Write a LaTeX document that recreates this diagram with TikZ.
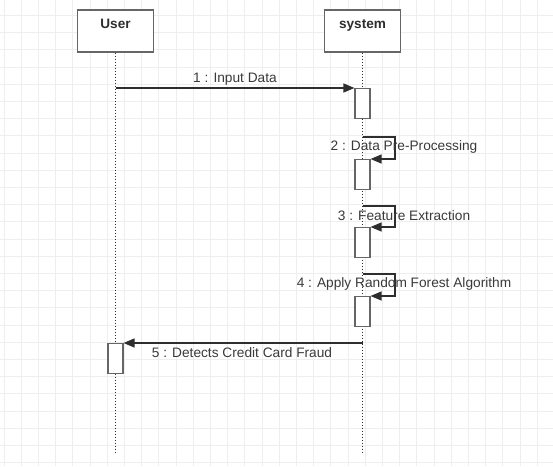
\documentclass[tikz,border=0pt]{standalone}
\usepackage{fontspec}
\setmainfont{Liberation Sans}
\usetikzlibrary{arrows.meta}
\definecolor{gridgray}{HTML}{EEEEEE}
\definecolor{boxgray}{HTML}{666666}
\definecolor{inkgray}{HTML}{2E2E2E}
\definecolor{textgray}{HTML}{3A3A3A}
\tikzset{
  head/.style={draw=boxgray, line width=1.3pt, fill=white, minimum width=76pt, minimum height=42pt, inner sep=0pt},
  headtext/.style={anchor=base, inner sep=0pt, text=inkgray, font=\bfseries\fontsize{13.6}{15}\selectfont},
  act/.style={draw=boxgray, line width=1.1pt, fill=white, minimum width=15pt, minimum height=30pt, inner sep=0pt, anchor=north},
  lifeline/.style={draw=inkgray, line width=1.2pt, dash pattern=on 1.5pt off 1.5pt},
  msg/.style={draw=inkgray, line width=1.3pt, -{Triangle[length=11pt,width=9pt]}},
  lbl/.style={text=textgray, inner sep=1pt, font=\fontsize{13.7}{15}\selectfont}
}
\begin{document}
\begin{tikzpicture}[x=1pt,y=-1pt]
        \useasboundingbox (0,0) rectangle (553,466);
        \fill[white] (0,0) rectangle (553,466);
        \foreach \k in {0,...,31} \draw[gridgray, line width=0.8pt] ({4+17.2*\k},0) -- ({4+17.2*\k},466);
        \foreach \k in {1,...,27} \draw[gridgray, line width=0.8pt] (0,{-1.9+17.2*\k}) -- (553,{-1.9+17.2*\k});
        \node[head] (user) at (115.5,31) {};
        \node[headtext] (usertxt) at (115.5,28.8) {User};
        \node[head] (system) at (362.5,31) {};
        \node[headtext] (systemtxt) at (362.5,28.8) {system};
        \coordinate (userend) at (115.5,453);
        \coordinate (systemend) at (362.5,453);
        \draw[lifeline] (user.south) -- (userend);
        \draw[lifeline] (system.south) -- (systemend);
        \node[act] (act1) at (362.5,88) {};
        \node[act] (act2) at (362.5,159) {};
        \node[act] (act3) at (362.5,227) {};
        \node[act] (act4) at (362.5,296) {};
        \node[act] (act5) at (115.5,343) {};
        \coordinate (msg1) at (115.5,88);
        \draw[msg] (msg1) -- (act1.north west)
        node[lbl, midway, above, yshift=1.5pt] (lbl1) {1 : Input Data};
        \coordinate (msg2) at (362.5,137);
        \draw[msg] (msg2) -- ++(32.5,0) |- (act2.north east);
        \node[lbl] (lbl2) at (404,147) {2 : Data Pre-Processing};
        \coordinate (msg3) at (362.5,206);
        \draw[msg] (msg3) -- ++(32.5,0) |- (act3.north east);
        \node[lbl] (lbl3) at (404,216) {3 : Feature Extraction};
        \coordinate (msg4) at (362.5,274);
        \draw[msg] (msg4) -- ++(32.5,0) |- (act4.north east);
        \node[lbl] (lbl4) at (404,284) {4 : Apply Random Forest Algorithm};
        \coordinate (msg5) at (362.5,343);
        \draw[msg] (msg5) -- (act5.north east);
        \node[lbl] (lbl5) at (242,353) {5 : Detects Credit Card Fraud};
\end{tikzpicture}
\end{document}
